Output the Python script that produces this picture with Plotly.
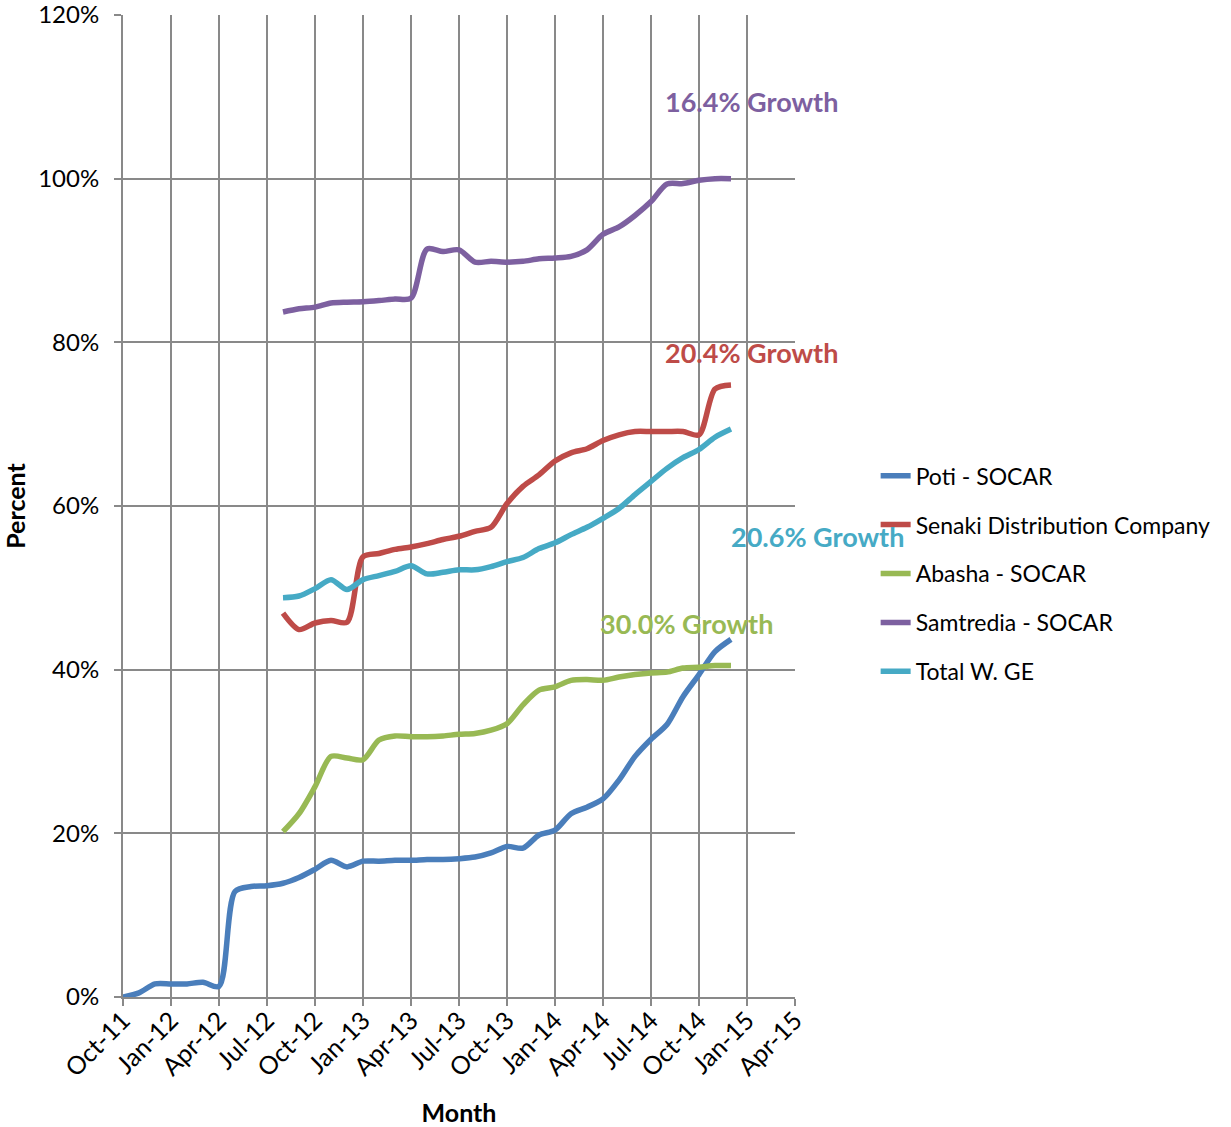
import plotly.graph_objects as go

# Month categories (Oct-11 .. Apr-15); data runs monthly to Dec-14
months = ["Oct-11", "Nov-11", "Dec-11", "Jan-12", "Feb-12", "Mar-12", "Apr-12", "May-12", "Jun-12",
          "Jul-12", "Aug-12", "Sep-12", "Oct-12", "Nov-12", "Dec-12", "Jan-13", "Feb-13", "Mar-13",
          "Apr-13", "May-13", "Jun-13", "Jul-13", "Aug-13", "Sep-13", "Oct-13", "Nov-13", "Dec-13",
          "Jan-14", "Feb-14", "Mar-14", "Apr-14", "May-14", "Jun-14", "Jul-14", "Aug-14", "Sep-14",
          "Oct-14", "Nov-14", "Dec-14", "Jan-15", "Feb-15", "Mar-15", "Apr-15"]

poti_start = "Oct-11"
poti = [0.0, 0.5, 1.6, 1.6, 1.6, 1.8, 1.3, 12.9, 13.5, 13.6, 13.9, 14.6, 15.6, 16.7, 15.9,
        16.6, 16.6, 16.7, 16.7, 16.8, 16.8, 16.9, 17.1, 17.6, 18.4, 18.2, 19.8, 20.4, 22.4,
        23.2, 24.2, 26.5, 29.4, 31.5, 33.3, 36.7, 39.4, 42.2, 43.7]

others_start = "Aug-12"
senaki = [46.9, 44.9, 45.7, 46.0, 45.8, 53.8, 54.2, 54.7, 55.0, 55.4, 55.9, 56.3, 56.9, 57.4,
          60.3, 62.4, 63.8, 65.5, 66.5, 67.0, 68.0, 68.7, 69.1, 69.1, 69.1, 69.1, 68.7, 74.3, 74.8]
abasha = [20.2, 22.4, 25.7, 29.4, 29.2, 29.0, 31.4, 31.9, 31.8, 31.8, 31.9, 32.1, 32.2, 32.6,
          33.4, 35.7, 37.5, 37.9, 38.7, 38.8, 38.7, 39.1, 39.4, 39.6, 39.7, 40.2, 40.3, 40.5, 40.5]
samtredia = [83.7, 84.1, 84.3, 84.8, 84.9, 84.95, 85.1, 85.3, 85.4, 91.4, 91.1, 91.3, 89.8, 89.9,
             89.8, 89.9, 90.2, 90.3, 90.5, 91.3, 93.2, 94.1, 95.5, 97.2, 99.35, 99.4, 99.8, 100.0, 100.0]
total = [48.8, 49.0, 49.9, 51.0, 49.8, 51.0, 51.5, 52.0, 52.7, 51.7, 51.9, 52.2, 52.2, 52.6,
         53.2, 53.7, 54.8, 55.5, 56.5, 57.4, 58.5, 59.7, 61.4, 63.0, 64.6, 65.9, 66.9, 68.4, 69.4]

series_names = ["Poti - SOCAR", "Senaki Distribution Company", "Abasha - SOCAR",
                "Samtredia - SOCAR", "Total W. GE"]
colors = ["#4A7EBB", "#BE4B48", "#98B954", "#7D60A0", "#46AAC5"]

growth_labels = ["16.4% Growth", "20.4% Growth", "20.6% Growth", "30.0% Growth"]

tick_labels = months[::3]

FONT = "Lato, sans-serif"


def xs(start, n):
    i0 = months.index(start)
    return list(range(i0, i0 + n))


fig = go.Figure()
series_data = [(poti_start, poti), (others_start, senaki), (others_start, abasha),
               (others_start, samtredia), (others_start, total)]
for k, (name, (start, vals)) in enumerate(zip(series_names, series_data)):
    fig.add_trace(go.Scatter(
        x=xs(start, len(vals)), y=vals, mode="lines", name=name,
        line=dict(color=colors[k], width=5.5, shape="spline", smoothing=0.8),
        legendgroup=name,
    ))

grid_color = "#898989"
x_max = len(months) - 1
fig.update_xaxes(
    range=[0, x_max], tickmode="array",
    tickvals=list(range(0, len(months), 3)), ticktext=tick_labels,
    tickangle=-45, showgrid=True, gridcolor=grid_color, gridwidth=2,
    showline=True, linecolor=grid_color, linewidth=2,
    ticks="outside", ticklen=7, tickcolor=grid_color, tickwidth=2,
    tickfont=dict(family=FONT, size=25, color="#000"), ticklabelstandoff=-10,
    title=dict(text="<b>Month</b>", font=dict(family=FONT, size=25, color="#000"), standoff=24),
    zeroline=False, automargin=False, ticklabeloverflow="allow",
)
fig.update_yaxes(
    range=[0, 120], tickvals=[0, 20, 40, 60, 80, 100, 120],
    ticktext=["0%", "20%", "40%", "60%", "80%", "100%", "120%"],
    showgrid=True, gridcolor=grid_color, gridwidth=2,
    showline=True, linecolor=grid_color, linewidth=2,
    ticks="outside", ticklen=7, tickcolor=grid_color, tickwidth=2,
    tickfont=dict(family=FONT, size=24, color="#000"), ticklabelstandoff=10,
    title=dict(text="<b>Percent</b>", font=dict(family=FONT, size=25, color="#000"), standoff=10),
    zeroline=False, automargin=False, ticklabeloverflow="allow",
)

# label anchor positions in month-index units / percent
ann_pos = [(39.25, 109.4, colors[3]), (39.3, 78.8, colors[1]), (43.4, 56.3, colors[4]), (35.2, 45.6, colors[2])]
for text, (ax, ay, c) in zip(growth_labels, ann_pos):
    fig.add_annotation(x=ax / x_max, xref="paper", y=ay, yref="y", text=f"<b>{text}</b>", showarrow=False,
                       font=dict(family=FONT, size=27, color=c), xanchor="center", yanchor="middle")

fig.update_layout(
    width=1231, height=1127,
    margin=dict(l=123, r=436, t=15, b=130),
    plot_bgcolor="white", paper_bgcolor="white",
    legend=dict(x=1.12, y=0.431, xanchor="left", yanchor="middle",
                font=dict(family=FONT, size=23, color="#000"),
                tracegroupgap=16, bgcolor="rgba(0,0,0,0)", borderwidth=0),
    showlegend=True,
)

fig.write_html("out.html")
